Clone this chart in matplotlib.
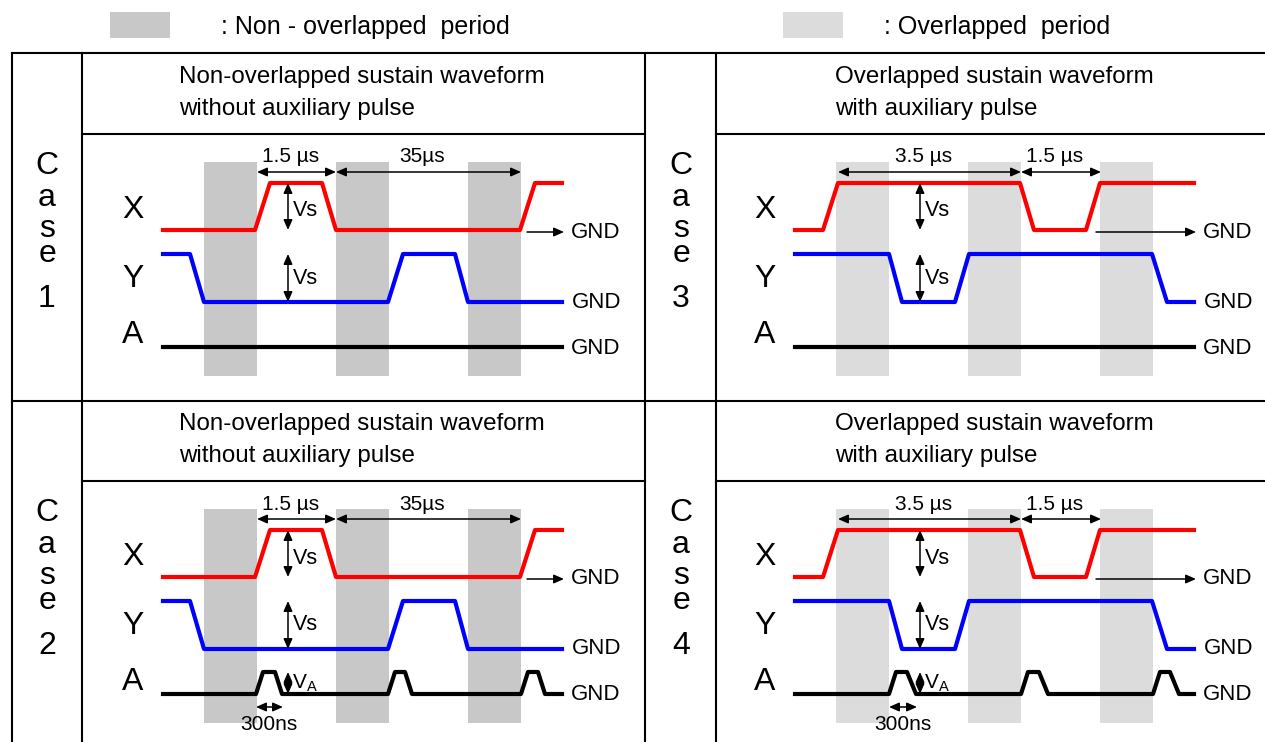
import matplotlib
matplotlib.use("Agg")
import matplotlib.pyplot as plt
from matplotlib.patches import Rectangle

plt.rcParams['font.family'] = ['Liberation Sans', 'DejaVu Sans']

# waveform break points, t in local units from the start of each trace, level 0 = GND
x_t_left = [0, 92, 107, 159, 173, 357, 372, 399]
x_lev_left = [0, 0, 1, 1, 0, 0, 1, 1]
y_t_left = [0, 27, 41, 225, 240, 292, 305, 399]
y_lev_left = [1, 1, 0, 0, 1, 1, 0, 0]

x_t_right = [0, 28, 43, 225, 239, 291, 305, 399]
x_lev_right = [0, 0, 1, 1, 0, 0, 1, 1]
y_t_right = [0, 94, 107, 160, 174, 357, 372, 399]
y_lev_right = [1, 1, 0, 0, 1, 1, 0, 0]

a_t_flat = [0, 399]
a_lev_flat = [0, 0]
a_t_left = [0, 93, 100, 112, 119, 225, 232, 242, 249, 358, 365, 375, 382, 399]
a_t_right = [0, 94, 101, 112, 121, 226, 233, 244, 253, 358, 365, 375, 384, 399]
a_lev_pulse = [0, 0, 1, 1, 0, 0, 1, 1, 0, 0, 1, 1, 0, 0]

# shaded periods (start, width) in the same local units
bar_start = [41, 173, 305]
bar_width = 53

# timing dimensions (from, to, label)
dims_left = [(94, 173, "1.5 µs"), (173, 358, "35µs")]
dims_right = [(43, 226, "3.5 µs"), (226, 306, "1.5 µs")]

case_names = ["1", "2", "3", "4"]
title_left = "Non-overlapped sustain waveform\nwithout auxiliary pulse"
title_right = "Overlapped sustain waveform\nwith auxiliary pulse"

dark_grey = "#c8c8c8"
light_grey = "#dcdcdc"

fig = plt.figure(figsize=(12.65, 7.42), dpi=100)
ax = fig.add_axes([0, 0, 1, 1])
ax.set_xlim(0, 1265)
ax.set_ylim(742, 0)
ax.axis("off")

# legend on top
ax.add_patch(Rectangle((110, 12), 60, 26, color=dark_grey, lw=0))
ax.text(221, 27, ": Non - overlapped  period", fontsize=18, va="center")
ax.add_patch(Rectangle((783, 12), 60, 26, color=light_grey, lw=0))
ax.text(884, 27, ": Overlapped  period", fontsize=18, va="center")

# table frame
lw_tab = 1.5
ax.plot([12, 1265], [53, 53], color="k", lw=lw_tab)
ax.plot([12, 1265], [401, 401], color="k", lw=lw_tab)
for yy in [134, 481]:
    ax.plot([82, 645], [yy, yy], color="k", lw=lw_tab)
    ax.plot([716, 1265], [yy, yy], color="k", lw=lw_tab)
for xx in [12, 82, 645, 716]:
    ax.plot([xx, xx], [53, 742], color="k", lw=lw_tab)

col_x0 = [163, 795]
col_case_x = [47, 681]
col_title_x = [179, 835]
row_y0 = [0, 347]

# local levels of each trace
x_low, x_amp = 230, 47
y_low, y_amp = 302, 48
a_low, a_amp = 347, 22

arrow_kw = dict(color="k", lw=1.1, shrinkA=0, shrinkB=0, mutation_scale=12)


def darrow(ax, x1, y1, x2, y2, style="<|-|>"):
    ax.annotate("", xy=(x2, y2), xytext=(x1, y1),
                arrowprops=dict(arrowstyle=style + ",head_length=0.5,head_width=0.22", **arrow_kw))


panels = [
    (0, 0, "1", dark_grey, x_t_left, x_lev_left, y_t_left, y_lev_left, a_t_flat, a_lev_flat, dims_left, title_left),
    (0, 1, "2", dark_grey, x_t_left, x_lev_left, y_t_left, y_lev_left, a_t_left, a_lev_pulse, dims_left, title_left),
    (1, 0, "3", light_grey, x_t_right, x_lev_right, y_t_right, y_lev_right, a_t_flat, a_lev_flat, dims_right, title_right),
    (1, 1, "4", light_grey, x_t_right, x_lev_right, y_t_right, y_lev_right, a_t_right, a_lev_pulse, dims_right, title_right),
]

for col, row, name, shade, xt, xl, yt, yl, at, al, dims, title in panels:
    x0 = col_x0[col]
    y0 = row_y0[row]

    # title of the panel
    ax.text(col_title_x[col], y0 + 77, title.split("\n")[0], fontsize=17.4, va="center")
    ax.text(col_title_x[col], y0 + 109, title.split("\n")[1], fontsize=17.4, va="center")

    # "Case n" written downwards
    for ch, dy in zip(["C", "a", "s", "e", name], [166, 198, 229, 254, 299]):
        ax.text(col_case_x[col], y0 + dy, ch, fontsize=23, ha="center", va="center")

    for bs in bar_start:
        ax.add_patch(Rectangle((x0 + bs, y0 + 162), bar_width, 214, color=shade, lw=0, zorder=1))

    ax.plot([x0 + t for t in xt], [y0 + x_low - v * x_amp for v in xl], color="#ff0000", lw=3, zorder=3)
    ax.plot([x0 + t for t in yt], [y0 + y_low - v * y_amp for v in yl], color="#0000ff", lw=3, zorder=3)
    ax.plot([x0 + t for t in at], [y0 + a_low - v * a_amp for v in al], color="k", lw=3, zorder=3)

    # channel names
    for lab, yy in zip(["X", "Y", "A"], [210, 279, 335]):
        ax.text(x0 - 30, y0 + yy, lab, fontsize=23, ha="center", va="center")

    # timing dimensions
    for t1, t2, lab in dims:
        darrow(ax, x0 + t1, y0 + 172, x0 + t2, y0 + 172)
        ax.text(x0 + (t1 + t2) / 2 - 6, y0 + 157, lab, fontsize=15, ha="center", va="center")

    # Vs amplitudes
    darrow(ax, x0 + 125, y0 + x_low - x_amp, x0 + 125, y0 + x_low)
    ax.text(x0 + 130, y0 + 211, "Vs", fontsize=15.5, va="center")
    darrow(ax, x0 + 125, y0 + y_low - y_amp, x0 + 125, y0 + y_low)
    ax.text(x0 + 130, y0 + 278, "Vs", fontsize=15.5, va="center")

    # GND marks
    gx = x0 + (364 if col == 0 else 301)
    darrow(ax, gx, y0 + x_low + 2, x0 + 401, y0 + x_low + 2, style="-|>")
    ax.text(x0 + 408, y0 + x_low + 2, "GND", fontsize=16, va="center")
    ax.text(x0 + 409, y0 + y_low, "GND", fontsize=16, va="center")
    ax.text(x0 + 408, y0 + a_low + 1, "GND", fontsize=16, va="center")

    if len(at) > 2:
        darrow(ax, x0 + 125, y0 + a_low - a_amp, x0 + 125, y0 + a_low)
        ax.text(x0 + 129, y0 + a_low - 11, r"V$_\mathregular{A}$", fontsize=15, va="center")
        darrow(ax, x0 + at[1], y0 + a_low + 13, x0 + at[4] + 1, y0 + a_low + 13)
        ax.text(x0 + (at[1] + at[4]) / 2, y0 + a_low + 30, "300ns", fontsize=15, ha="center", va="center")

fig.savefig("out.png", dpi=100)
